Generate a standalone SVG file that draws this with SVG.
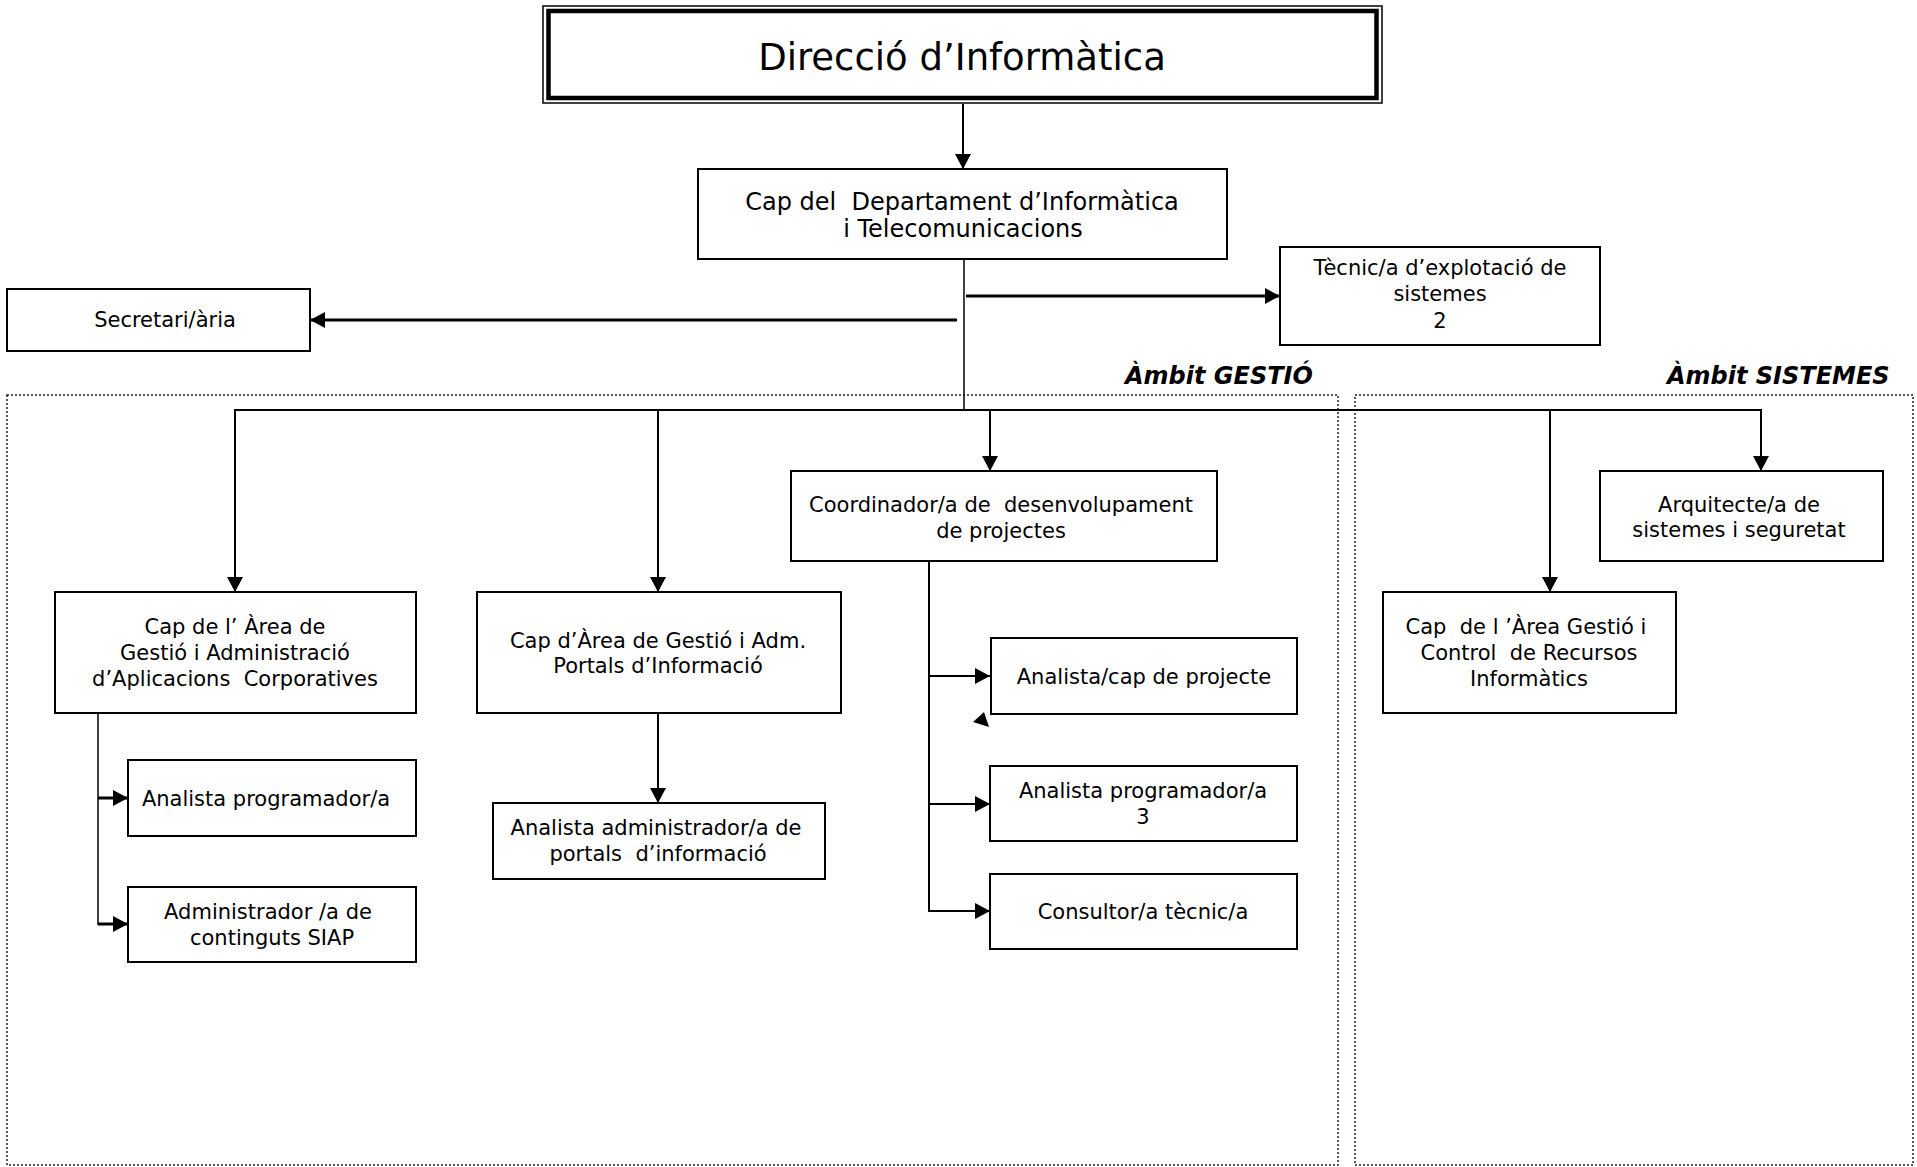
<svg xmlns="http://www.w3.org/2000/svg" width="1917" height="1167" viewBox="0 0 1917 1167" xml:space="preserve">
<style>
  .box { fill: #fff; stroke: #000; stroke-width: 2; }
  .t { font-family: "DejaVu Sans", Verdana, sans-serif; font-size: 21px; fill: #000; text-anchor: middle; white-space: pre; }
  .big { font-size: 37px; }
  .mid { font-size: 24px; }
  .amb { font-family: "DejaVu Sans", Verdana, sans-serif; font-size: 24px; font-weight: bold; font-style: italic; fill: #000; }
  .zone { fill: none; stroke: #222; stroke-width: 1.5; stroke-dasharray: 2 2; }
  .c { fill: none; stroke: #000; stroke-width: 2; }
  .c3 { fill: none; stroke: #000; stroke-width: 3; }
  .thin { fill: none; stroke: #000; stroke-width: 1.5; }
</style>
<defs>
  <marker id="ah" markerUnits="userSpaceOnUse" markerWidth="16" markerHeight="16" refX="15" refY="8" orient="auto">
    <path d="M0,0 L15,8 L0,16 z" fill="#000"/>
  </marker>
</defs>
<rect width="1917" height="1167" fill="#fff"/>

<g id="zones">
  <rect class="zone" x="7" y="395" width="1331" height="770"/>
  <rect class="zone" x="1355" y="395" width="558" height="770"/>
  <text class="amb" x="1125" y="384">Àmbit GESTIÓ</text>
  <text class="amb" x="1667" y="384">Àmbit SISTEMES</text>
</g>

<g id="connectors">
  <line class="c" x1="963" y1="104" x2="963" y2="169" marker-end="url(#ah)"/>
  <line class="thin" x1="964" y1="259" x2="964" y2="410"/>
  <line class="c3" x1="966" y1="296" x2="1280" y2="296" marker-end="url(#ah)"/>
  <line class="c3" x1="957" y1="320" x2="310" y2="320" marker-end="url(#ah)"/>
  <line class="c" x1="234" y1="410" x2="1762" y2="410"/>
  <line class="c" x1="235" y1="410" x2="235" y2="592" marker-end="url(#ah)"/>
  <line class="c" x1="658" y1="410" x2="658" y2="592" marker-end="url(#ah)"/>
  <line class="c" x1="990" y1="410" x2="990" y2="471" marker-end="url(#ah)"/>
  <line class="c" x1="1550" y1="410" x2="1550" y2="592" marker-end="url(#ah)"/>
  <line class="c" x1="1761" y1="410" x2="1761" y2="471" marker-end="url(#ah)"/>
  <line class="thin" x1="98" y1="713" x2="98" y2="925"/>
  <line class="c3" x1="98" y1="798" x2="128" y2="798" marker-end="url(#ah)"/>
  <line class="c3" x1="98" y1="924" x2="128" y2="924" marker-end="url(#ah)"/>
  <line class="c" x1="658" y1="713" x2="658" y2="803" marker-end="url(#ah)"/>
  <line class="c" x1="929" y1="561" x2="929" y2="912"/>
  <line class="c" x1="929" y1="676" x2="990" y2="676" marker-end="url(#ah)"/>
  <line class="c" x1="929" y1="804" x2="990" y2="804" marker-end="url(#ah)"/>
  <line class="c" x1="929" y1="911" x2="990" y2="911" marker-end="url(#ah)"/>
  <polygon points="973,722 984,712 989,727" fill="#000"/>
</g>

<g id="direccio">
  <rect x="543" y="6" width="839" height="97" fill="#fff" stroke="#000" stroke-width="1.5"/>
  <rect x="548.5" y="11" width="828" height="87" fill="none" stroke="#000" stroke-width="4.5"/>
  <text class="t big" x="962" y="70">Direcció d’Informàtica</text>
</g>

<g id="cap-departament">
  <rect class="box" x="698" y="169" width="529" height="90"/>
  <text class="t mid" x="962" y="210">Cap del  Departament d’Informàtica</text>
  <text class="t mid" x="963" y="237">i Telecomunicacions</text>
</g>

<g id="tecnic-explotacio">
  <rect class="box" x="1280" y="247" width="320" height="98"/>
  <text class="t" x="1440" y="275">Tècnic/a d’explotació de</text>
  <text class="t" x="1440" y="301">sistemes</text>
  <text class="t" x="1440" y="328">2</text>
</g>

<g id="secretaria">
  <rect class="box" x="7" y="289" width="303" height="62"/>
  <text class="t" x="165" y="327">Secretari/ària</text>
</g>

<g id="cap-area-aplicacions">
  <rect class="box" x="55" y="592" width="361" height="121"/>
  <text class="t" x="235" y="634">Cap de l’ Àrea de</text>
  <text class="t" x="235" y="660">Gestió i Administració</text>
  <text class="t" x="235" y="686">d’Aplicacions  Corporatives</text>
</g>

<g id="cap-area-portals">
  <rect class="box" x="477" y="592" width="364" height="121"/>
  <text class="t" x="658" y="648">Cap d’Àrea de Gestió i Adm.</text>
  <text class="t" x="658" y="673">Portals d’Informació</text>
</g>

<g id="coordinador">
  <rect class="box" x="791" y="471" width="426" height="90"/>
  <text class="t" x="1001" y="512">Coordinador/a de  desenvolupament</text>
  <text class="t" x="1001" y="538">de projectes</text>
</g>

<g id="arquitecte">
  <rect class="box" x="1600" y="471" width="283" height="90"/>
  <text class="t" x="1739" y="512">Arquitecte/a de</text>
  <text class="t" x="1739" y="537">sistemes i seguretat</text>
</g>

<g id="cap-area-recursos">
  <rect class="box" x="1383" y="592" width="293" height="121"/>
  <text class="t" x="1526" y="634">Cap  de l ’Àrea Gestió i</text>
  <text class="t" x="1529" y="660">Control  de Recursos</text>
  <text class="t" x="1529" y="686">Informàtics</text>
</g>

<g id="analista-programador-1">
  <rect class="box" x="128" y="760" width="288" height="76"/>
  <text class="t" x="266" y="806">Analista programador/a</text>
</g>

<g id="administrador-continguts">
  <rect class="box" x="128" y="887" width="288" height="75"/>
  <text class="t" x="268" y="919">Administrador /a de</text>
  <text class="t" x="272" y="945">continguts SIAP</text>
</g>

<g id="analista-portals">
  <rect class="box" x="493" y="803" width="332" height="76"/>
  <text class="t" x="656" y="835">Analista administrador/a de</text>
  <text class="t" x="658" y="861">portals  d’informació</text>
</g>

<g id="analista-cap-projecte">
  <rect class="box" x="991" y="638" width="306" height="76"/>
  <text class="t" x="1144" y="684">Analista/cap de projecte</text>
</g>

<g id="analista-programador-3">
  <rect class="box" x="990" y="766" width="307" height="75"/>
  <text class="t" x="1143" y="798">Analista programador/a</text>
  <text class="t" x="1143" y="824">3</text>
</g>

<g id="consultor-tecnic">
  <rect class="box" x="990" y="874" width="307" height="75"/>
  <text class="t" x="1143" y="919">Consultor/a tècnic/a</text>
</g>
</svg>
